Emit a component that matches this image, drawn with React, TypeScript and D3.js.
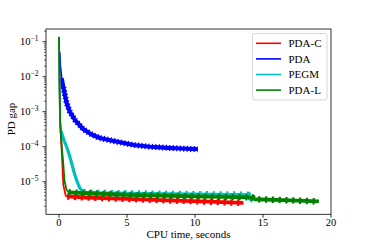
import * as d3 from "d3";

// PD gap vs CPU time (seconds)
const pdaC: [number, number][] = [
  [0, 0.13], [0.08, 5e-4], [0.2, 8e-5], [0.32, 8e-6], [0.5, 4e-6], [0.6, 3.8e-6],
  [2, 3.55e-6], [5, 3.25e-6], [8, 2.95e-6], [11, 2.7e-6], [13.55, 2.5e-6],
];
const pda: [number, number][] = [
  [0.05, 5e-2], [0.1, 2e-2], [0.2, 8.9e-3], [0.32, 5e-3], [0.56, 1.78e-3], [0.8, 1e-3],
  [1.18, 5.75e-4], [1.79, 3.16e-4], [2.4, 2.24e-4], [3.0, 1.78e-4], [4.2, 1.41e-4],
  [5.5, 1.12e-4], [6.7, 1e-4], [8, 9.3e-5], [9, 8.9e-5], [10.2, 8.5e-5],
];
const pegm: [number, number][] = [
  [0, 0.13], [0.04, 6e-3], [0.07, 6e-4], [0.15, 2.8e-4], [0.35, 1.6e-4], [0.56, 1e-4],
  [0.75, 6e-5], [0.93, 3.4e-5], [1.12, 1.8e-5], [1.3, 1.1e-5], [1.54, 6.5e-6], [1.8, 5e-6],
  [3, 4.8e-6], [6, 4.6e-6], [10, 4.4e-6], [13.9, 4.25e-6], [14.0, 3.2e-6], [14.3, 3.2e-6],
];
const pdaL: [number, number][] = [
  [0, 0.138], [0.04, 6.3e-3], [0.1, 4e-4], [0.2, 1e-4], [0.3, 4e-5], [0.4, 1.1e-5],
  [0.56, 5.8e-6], [0.7, 5e-6], [2, 4.7e-6], [5, 4.2e-6], [10, 3.8e-6], [14.2, 3.6e-6],
  [14.4, 3.16e-6], [17, 2.95e-6], [19.1, 2.75e-6],
];

const seriesNames = ["PDA-C", "PDA", "PEGM", "PDA-L"];
const seriesData = [pdaC, pda, pegm, pdaL];
const seriesColors = ["#ff0000", "#0000ff", "#00bfbf", "#008000"];
const bandFrom = [0.55, 0.15, 0.15, 0.65]; // where the line turns into a noisy band
const teethFrom = [0.55, 0.3, 1.7, 0.65];

const xTicks = [0, 5, 10, 15, 20];
const yTickExps = [-1, -2, -3, -4, -5];

const W = 368;
const H = 245;
const left = 46, right = 331, top = 29, bottom = 214.3;

export default function App() {
  const x = d3.scaleLinear().domain([-0.955, 20.0]).range([left, right]);
  const y = d3.scaleLog().domain([Math.pow(10, -5.93), Math.pow(10, -0.637)]).range([bottom, top]);

  const line = d3
    .line<[number, number]>()
    .x((d) => x(d[0]))
    .y((d) => y(d[1]));

  // minor log ticks inside the domain
  const minor: number[] = [];
  for (let e = -6; e <= -1; e++) {
    for (let m = 2; m <= 9; m++) {
      const v = m * Math.pow(10, e);
      if (y(v) >= top && y(v) <= bottom) minor.push(v);
    }
  }

  const font = "'Liberation Serif', 'Times New Roman', 'DejaVu Serif', serif";

  return (
    <div style={{ position: "fixed", left: 0, top: 0 }}>
      <svg width={W} height={H} style={{ display: "block", background: "#fff", fontFamily: font }}>
        <defs>
          <clipPath id="plot">
            <rect x={left} y={top} width={right - left} height={bottom - top} />
          </clipPath>
        </defs>

        <g clipPath="url(#plot)">
          {seriesData.map((data, i) => {
            const band = data.filter((d) => d[0] >= bandFrom[i]);
            const teeth = data.filter((d) => d[0] >= teethFrom[i]);
            const c = seriesColors[i];
            return (
              <g key={seriesNames[i]} fill="none" stroke={c} strokeLinejoin="round">
                <path d={line(data) ?? ""} strokeWidth={1.8} />
                <path d={line(band) ?? ""} strokeWidth={i === 1 ? 4.2 : i === 2 ? 3.2 : 3.8} />
                <path
                  d={line(teeth) ?? ""}
                  strokeWidth={i === 1 ? 6 : 6.5}
                  strokeDasharray={i === 1 ? "1.2 2.3" : "2.2 4.6"}
                />
              </g>
            );
          })}
        </g>

        {/* spines */}
        <rect x={left} y={top} width={right - left} height={bottom - top} fill="none" stroke="#000" strokeWidth={0.8} />

        {/* x axis */}
        {xTicks.map((t) => (
          <g key={t}>
            <line x1={x(t)} x2={x(t)} y1={bottom} y2={bottom + 3.5} stroke="#000" strokeWidth={0.8} />
            <text x={x(t)} y={226} textAnchor="middle" fontSize={10.5}>
              {t}
            </text>
          </g>
        ))}
        <text x={(left + right) / 2} y={237.5} textAnchor="middle" fontSize={11}>
          CPU time, seconds
        </text>

        {/* y axis */}
        {minor.map((v) => (
          <line key={v} x1={left - 2} x2={left} y1={y(v)} y2={y(v)} stroke="#000" strokeWidth={0.6} />
        ))}
        {yTickExps.map((e) => {
          const v = Math.pow(10, e);
          return (
            <g key={e}>
              <line x1={left - 3.5} x2={left} y1={y(v)} y2={y(v)} stroke="#000" strokeWidth={0.8} />
              <text x={38.5} y={y(v) + 3.5} textAnchor="end" fontSize={10.5}>
                10
                <tspan fontSize={7.5} dy={-4.5}>
                  {"\u2212" + Math.abs(e)}
                </tspan>
              </text>
            </g>
          );
        })}
        <text transform={`translate(14.5,119) rotate(-90)`} textAnchor="middle" fontSize={11}>
          PD gap
        </text>

        {/* legend */}
        <rect x={252.5} y={33.5} width={74.5} height={66.5} rx={2.5} fill="#fff" fillOpacity={0.8} stroke="#cccccc" strokeWidth={0.8} />
        {seriesNames.map((name, i) => {
          const ly = 43.3 + i * 15.6;
          return (
            <g key={name}>
              <line x1={256} x2={281} y1={ly} y2={ly} stroke={seriesColors[i]} strokeWidth={1.6} />
              <text x={288.5} y={ly + 3.8} fontSize={11}>
                {name}
              </text>
            </g>
          );
        })}
      </svg>
    </div>
  );
}
